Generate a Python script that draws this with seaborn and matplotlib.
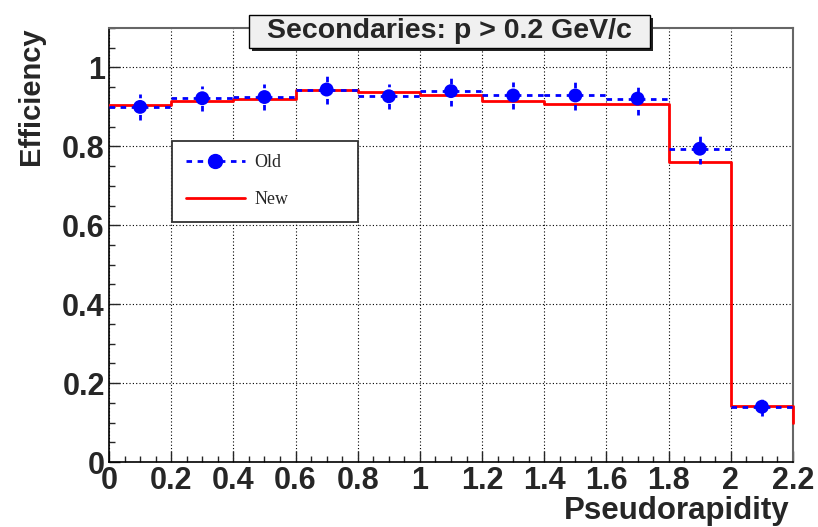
import matplotlib
matplotlib.use("Agg")
import matplotlib.pyplot as plt
import seaborn as sns
import numpy as np
import pandas as pd
from matplotlib.lines import Line2D
from matplotlib.patches import Rectangle
from matplotlib.ticker import MultipleLocator

# ---- data ----
bin_edges = [0.0, 0.2, 0.4, 0.6, 0.8, 1.0, 1.2, 1.4, 1.6, 1.8, 2.0, 2.2]
new_eff = [0.904, 0.915, 0.921, 0.944, 0.938, 0.930, 0.914, 0.908, 0.908, 0.760, 0.142]
overflow_level = 0.10
old_eff = [0.900, 0.922, 0.925, 0.944, 0.927, 0.940, 0.929, 0.929, 0.921, 0.794, 0.140]
old_err = [0.032, 0.032, 0.032, 0.036, 0.032, 0.037, 0.034, 0.036, 0.042, 0.038, 0.023]
x_tick_labels = ["0", "0.2", "0.4", "0.6", "0.8", "1", "1.2", "1.4", "1.6", "1.8", "2", "2.2"]
y_tick_labels = ["0", "0.2", "0.4", "0.6", "0.8", "1"]
title_text = "Secondaries: p > 0.2 GeV/c"
x_label = "Pseudorapidity"
y_label = "Efficiency"

sns.set_style("white")
plt.rcParams['font.family'] = ['Liberation Sans', 'DejaVu Sans']

fig = plt.figure(figsize=(8.18, 5.27), dpi=100)
W, H = 818, 527
ax = fig.add_axes([109 / W, (527 - 462) / H, (793 - 109) / W, (462 - 28) / H])

centers = [(bin_edges[i] + bin_edges[i + 1]) / 2 for i in range(len(new_eff))]
half_w = [(bin_edges[i + 1] - bin_edges[i]) / 2 for i in range(len(new_eff))]

# New: step histogram
df_new = pd.DataFrame({"x": bin_edges, "y": new_eff + [new_eff[-1]]})
sns.lineplot(data=df_new, x="x", y="y", drawstyle="steps-post", color="red",
             linewidth=2, ax=ax, zorder=3, sort=False)
ax.plot([bin_edges[-1], bin_edges[-1]], [new_eff[-1], overflow_level], color="red",
        linewidth=2, zorder=3, clip_on=False)

# Old: points with dotted error bars
eb = ax.errorbar(centers, old_eff, xerr=half_w, yerr=old_err, fmt="none",
                 ecolor="blue", elinewidth=2, zorder=4)
for lc in eb[2]:
    lc.set_linestyle((0, (2, 2)))
df_old = pd.DataFrame({"x": centers, "y": old_eff})
sns.scatterplot(data=df_old, x="x", y="y", color="blue", s=100, edgecolor="none",
                ax=ax, zorder=5)

ax.set_xlim(0, 2.2)
ax.set_ylim(0, 1.1)
ax.xaxis.set_minor_locator(MultipleLocator(0.05))
ax.yaxis.set_minor_locator(MultipleLocator(0.05))
ax.set_xticks(np.round(np.arange(0, 2.21, 0.2), 1))
ax.set_xticklabels(x_tick_labels)
ax.set_yticks([0, 0.2, 0.4, 0.6, 0.8, 1.0])
ax.set_yticklabels(y_tick_labels)
ax.tick_params(axis="both", which="major", direction="in", length=8, width=1,
               labelsize=22, pad=3)
ax.tick_params(axis="both", which="minor", direction="in", length=4, width=1)
ax.tick_params(axis="x", which="both", bottom=True, top=False)
ax.tick_params(axis="y", which="both", left=True, right=False)
for lab in ax.get_xticklabels() + ax.get_yticklabels():
    lab.set_fontweight("bold")
ax.grid(True, which="major", color="black", linestyle=(0, (1, 2)), linewidth=0.8)
ax.set_axisbelow(True)
for side in ["left", "bottom"]:
    ax.spines[side].set_color("black")
    ax.spines[side].set_linewidth(1.2)
for side in ["top", "right"]:
    ax.spines[side].set_color("#666666")
    ax.spines[side].set_linewidth(1.5)

ax.set_xlabel("")
ax.set_ylabel("")
fig.text(790 / W, 1 - 511 / H, x_label, ha="right", va="center", fontsize=22.5,
         fontweight="bold")
fig.text(31 / W, 1 - 27 / H, y_label, ha="center", va="top", rotation=90,
         fontsize=21, fontweight="bold")

# Title box with shadow
bx0, bx1, by0, by1 = 249, 650, 15, 48
fig.patches.append(Rectangle(((bx0 + 3) / W, 1 - (by1 + 3) / H), (bx1 - bx0) / W,
                             (by1 - by0) / H, transform=fig.transFigure,
                             facecolor="#222222", edgecolor="none", zorder=10))
fig.patches.append(Rectangle((bx0 / W, 1 - by1 / H), (bx1 - bx0) / W, (by1 - by0) / H,
                             transform=fig.transFigure, facecolor="#f0f0f0",
                             edgecolor="black", linewidth=1, zorder=11))
fig.text((bx0 + bx1) / 2 / W, 1 - (by0 + by1) / 2 / H, title_text, ha="center",
         va="center", fontsize=20.5, fontweight="bold", zorder=12)

# Legend
handles = [
    Line2D([], [], color="blue", linestyle=(0, (2, 2)), linewidth=2, marker="o",
           markersize=10, markeredgecolor="blue"),
    Line2D([], [], color="red", linewidth=2),
]
leg = ax.legend(handles, ["Old", "New"], loc="upper left",
                bbox_to_anchor=((172 - 109) / 684, 1 - (145 - 28) / 434, (358 - 172) / 684, 0.01),
                mode="expand", borderaxespad=0, frameon=True, fancybox=False,
                prop={"family": "Liberation Serif", "size": 13},
                handlelength=3.3, handletextpad=0.5, labelspacing=1.1, borderpad=0.75)
leg.get_frame().set_edgecolor("#333333")
leg.get_frame().set_linewidth(1.3)
leg.get_frame().set_alpha(1)

fig.savefig("out.png", dpi=100)
